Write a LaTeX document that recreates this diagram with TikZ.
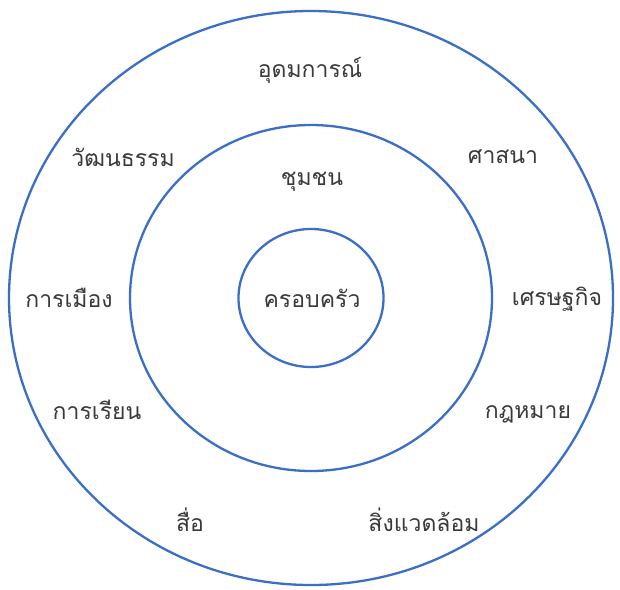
\documentclass[tikz,border=0pt]{standalone}
\usepackage{fontspec}
\newfontfamily\thaifont[Script=Thai]{Loma}
\definecolor{ringblue}{HTML}{3B6FC6}
\definecolor{txtgray}{HTML}{3A3A3A}
\begin{document}
\begin{tikzpicture}[x=1pt,y=-1pt,
  ring/.style={draw=ringblue,line width=2.3pt},
  lbl/.style={text=txtgray,font=\thaifont\fontsize{23}{26}\selectfont,inner sep=0pt}]
\useasboundingbox[fill=white] (0,0) rectangle (620,589);
\coordinate (c) at (311,298);
\draw[ring] (c) ellipse [x radius=302, y radius=287];
\draw[ring] (c) ellipse [x radius=181, y radius=173];
\draw[ring] (c) ellipse [x radius=72.5, y radius=69];
\node[lbl] (family) at (312,298) {ครอบครัว};
\node[lbl] (community) at (312,182) {ชุมชน};
\node[lbl] (ideology) at (310,70) {อุดมการณ์};
\node[lbl] (culture) at (123,157) {วัฒนธรรม};
\node[lbl] (religion) at (503,157) {ศาสนา};
\node[lbl] (politics) at (69,298) {การเมือง};
\node[lbl] (economy) at (557,299) {เศรษฐกิจ};
\node[lbl] (education) at (97,410) {การเรียน};
\node[lbl] (law) at (528,414) {กฎหมาย};
\node[lbl] (media) at (190,520) {สื่อ};
\node[lbl] (environment) at (424,520) {สิ่งแวดล้อม};
\end{tikzpicture}
\end{document}
